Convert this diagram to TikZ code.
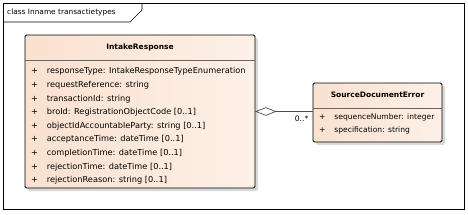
\documentclass[tikz,border=0pt]{standalone}
\usepackage{fontspec}
\setmainfont{DejaVu Sans}
\usetikzlibrary{shadows,shapes.geometric,positioning}

\definecolor{peach}{HTML}{FAE1CF}
\definecolor{peachlight}{HTML}{FDF0E7}

\begin{document}
\begin{tikzpicture}[
  x=1pt, y=-1pt,
  every node/.style={font=\fontsize{8.2}{13.6}\selectfont, inner sep=0pt},
  frame/.style={draw=black, line width=0.7pt},
  classbox/.style={draw=black, line width=0.9pt, rounded corners=1.5pt, left color=peach, right color=peachlight,
    drop shadow={shadow xshift=3pt, shadow yshift=-3pt, fill=black!15, opacity=1}},
  classname/.style={font=\fontsize{7.5}{9}\selectfont\bfseries},
  attrs/.style={align=left, anchor=north west},
  sepline/.style={draw=black!60, line width=0.7pt},
  assoc/.style={draw=black!70, line width=0.7pt},
  aggr/.style={diamond, draw=black!70, line width=0.7pt, fill=white, aspect=2.5, minimum width=20pt, minimum height=8pt}
]
  \useasboundingbox (0,0) rectangle (468,214);

  % package frame with its tab
  \draw[frame] (3,3) rectangle (464,209);
  \draw[frame] (3,22) -- (130,22) -- (142,10) -- (142,3);
  \node[anchor=west, font=\fontsize{7.4}{9}\selectfont] (pkg) at (7,12.5) {class Inname transactietypes};

  % IntakeResponse
  \node[classbox, minimum width=230pt, minimum height=153pt] (intake) at (140,111.5) {};
  \node[classname, minimum width=230pt, minimum height=25pt, anchor=north] (intakeH) at (intake.north) {IntakeResponse};
  \draw[sepline] (intakeH.south west) -- (intakeH.south east);
  \node[attrs, below right=7.5pt and 6pt of intakeH.south west] (intakeA) {%
    +\hspace{9pt}responseType: IntakeResponseTypeEnumeration\\
    +\hspace{9pt}requestReference: string\\
    +\hspace{9pt}transactionId: string\\
    +\hspace{9pt}broId: RegistrationObjectCode [0..1]\\
    +\hspace{9pt}objectIdAccountableParty: string [0..1]\\
    +\hspace{9pt}acceptanceTime: dateTime [0..1]\\
    +\hspace{9pt}completionTime: dateTime [0..1]\\
    +\hspace{9pt}rejectionTime: dateTime [0..1]\\
    +\hspace{9pt}rejectionReason: string [0..1]};

  % SourceDocumentError
  \node[classbox, minimum width=129pt, minimum height=59pt] (srcerr) at (377.5,112.5) {};
  \node[classname, minimum width=129pt, minimum height=25pt, anchor=north] (srcerrH) at (srcerr.north) {SourceDocumentError};
  \draw[sepline] (srcerrH.south west) -- (srcerrH.south east);
  \node[attrs, font=\fontsize{7.6}{12.4}\selectfont, below right=6pt and 6pt of srcerrH.south west] (srcerrA) {%
    +\hspace{9pt}sequenceNumber: integer\\
    +\hspace{9pt}specification: string};

  % aggregation
  \node[aggr, anchor=west] (agg) at (intake.east) {};
  \draw[assoc] (agg.east) -- (agg.east -| srcerr.west);
  \node[font=\fontsize{7.6}{9}\selectfont, below left=3pt and 4pt of srcerr.west] (mult) {0..*};
\end{tikzpicture}
\end{document}
